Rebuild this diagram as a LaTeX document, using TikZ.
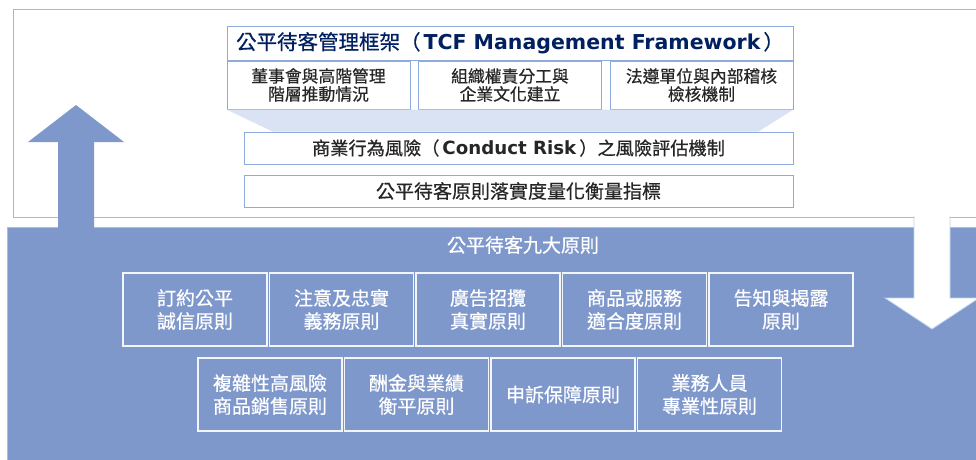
\documentclass[tikz,border=0pt]{standalone}
\usepackage{fontspec}
\setmainfont{Noto Sans CJK TC}[FakeBold=0.5]
\newfontfamily\latinfont{DejaVu Sans}
\usetikzlibrary{positioning}
\definecolor{navy}{RGB}{0,32,96}
\definecolor{panelblue}{RGB}{127,152,204}
\definecolor{edgeblue}{RGB}{143,170,220}
\definecolor{paleblue}{RGB}{218,227,243}
\definecolor{skyline}{RGB}{157,195,230}
\newcommand{\en}[1]{\hspace{3pt}{\latinfont\bfseries #1}\hspace{3pt}}
\tikzset{
  fwbox/.style={
    draw=edgeblue,
    fill=white,
    line width=1pt,
    minimum width=566pt,
    minimum height=34pt,
    inner sep=0pt,
    text=navy,
    font=\fontsize{20.5pt}{24pt}\selectfont,
  },
  subbox/.style={
    draw=edgeblue,
    fill=white,
    line width=1pt,
    minimum width=183pt,
    minimum height=48pt,
    inner sep=0pt,
    align=center,
    text=black!85,
    font=\fontsize{16.8pt}{18pt}\selectfont,
  },
  riskbox/.style={
    subbox,
    minimum width=549pt,
    minimum height=32pt,
    font=\fontsize{18.2pt}{20pt}\selectfont,
  },
  principle/.style={
    draw=white!90!panelblue,
    line width=1.2pt,
    minimum width=144pt,
    minimum height=73pt,
    inner sep=0pt,
    align=center,
    text=white,
    font=\fontsize{19pt}{23pt}\selectfont,
  }
}
\begin{document}
\begin{tikzpicture}[x=1pt, y=-1pt, node distance=146.5pt]
  \clip (0,0) rectangle (976,459);
  % framework panel and principles panel
  \draw[edgeblue!85, line width=1pt, fill=white] (13,9) rectangle (990,217);
  \draw[skyline, line width=1pt, fill=panelblue] (7,227) rectangle (990,470);

  % big arrows
  \fill[panelblue] (58,228) -- (58,142) -- (28,142) -- (76,105) -- (124,142)
    -- (94,142) -- (94,228) -- cycle;
  \filldraw[draw=skyline!70, fill=white, line width=0.8pt] (914,216) -- (914,298)
    -- (885,298) -- (932,329) -- (979,298) -- (950,298) -- (950,216);

  % TCF management framework
  \node[fwbox] (fw) at (510,43) {公平待客管理框架（\en{TCF Management Framework}）};
  \node[subbox] (board) at (318.5,85) {董事會與高階管理\\階層推動情況};
  \node[subbox, right of=board, node distance=191.5pt] (org) {組織權責分工與\\企業文化建立};
  \node[subbox, right of=org, node distance=191.5pt] (audit) {法遵單位與內部稽核\\檢核機制};

  \node[riskbox] (risk) at (518.5,148) {商業行為風險（\en{Conduct Risk}）之風險評估機制};
  \node[riskbox, below=10pt of risk, font=\fontsize{19pt}{22pt}\selectfont] (metric) {公平待客原則落實度量化衡量指標};
  \fill[paleblue] (board.south west) -- (audit.south east)
    -- ([xshift=-35pt]risk.north east) -- ([xshift=29pt]risk.north west) -- cycle;

  % nine principles
  \node[text=white, font=\fontsize{19pt}{22pt}\selectfont] (nine) at (523,245) {公平待客九大原則};
  \node[principle] (p1) at (195,309.5) {訂約公平\\誠信原則};
  \node[principle, right of=p1] (p2) {注意及忠實\\義務原則};
  \node[principle, right of=p2] (p3) {廣告招攬\\真實原則};
  \node[principle, right of=p3] (p4) {商品或服務\\適合度原則};
  \node[principle, right of=p4] (p5) {告知與揭露\\原則};

  \node[principle] (p6) at (270,394.5) {複雜性高風險\\商品銷售原則};
  \node[principle, right of=p6] (p7) {酬金與業績\\衡平原則};
  \node[principle, right of=p7] (p8) {申訴保障原則};
  \node[principle, right of=p8] (p9) {業務人員\\專業性原則};
\end{tikzpicture}
\end{document}
